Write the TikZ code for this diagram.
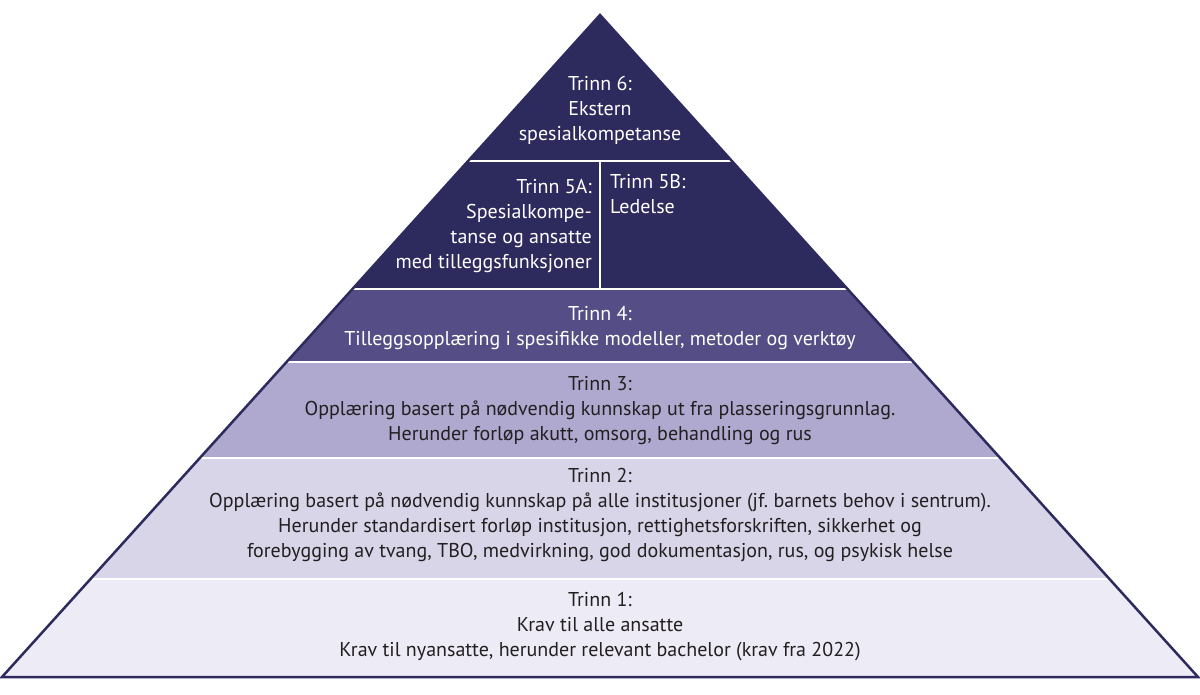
\documentclass[tikz,border=0pt]{standalone}
\usepackage{fontspec}
\setmainfont{PT Sans}
\definecolor{navy}{HTML}{2D2A5E}
\definecolor{bandfour}{HTML}{554E86}
\definecolor{bandthree}{HTML}{AFA9CF}
\definecolor{bandtwo}{HTML}{D8D5E9}
\definecolor{bandone}{HTML}{EDEBF6}
\definecolor{ink}{HTML}{231F20}
\begin{document}
\frenchspacing
\begin{tikzpicture}[x=1pt,y=-1pt,
  sep/.style={white,line width=2.5pt},
  lbl/.style={font=\fontsize{20}{25}\selectfont,align=center,inner sep=0pt},
  lightlbl/.style={lbl,text=white},
  darklbl/.style={lbl,text=ink}]
\useasboundingbox (0,0) rectangle (1200,695);
\coordinate (apex) at (600,15);
\coordinate (bl) at (2,677);
\coordinate (br) at (1198,677);
\begin{scope}
  \clip (apex) -- (br) -- (bl) -- cycle;
  \fill[navy] (0,0) rectangle (1200,290);
  \fill[bandfour] (0,290) rectangle (1200,362);
  \fill[bandthree] (0,362) rectangle (1200,458);
  \fill[bandtwo] (0,458) rectangle (1200,579);
  \fill[bandone] (0,579) rectangle (1200,680);
  \draw[sep] (0,161) -- (1200,161);
  \draw[sep] (0,289) -- (1200,289);
  \draw[sep] (0,362) -- (1200,362);
  \draw[sep] (0,458) -- (1200,458);
  \draw[sep] (0,579) -- (1200,579);
  \draw[sep] (600,161) -- (600,289);
\end{scope}
\draw[navy,line width=2.5pt,line join=miter] (apex) -- (br) -- (bl) -- cycle;
\node[lightlbl] (t6) at (600,110) {Trinn 6:\\Ekstern\\spesialkompetanse};
\node[lightlbl,align=right,anchor=east] (t5a) at (592,226) {Trinn 5A:\\Spesialkompe-\\tanse og ansatte\\med tilleggsfunksjoner};
\node[lightlbl,align=left,anchor=north west] (t5b) at (610,174) {Trinn 5B:\\Ledelse};
\node[lightlbl] (t4) at (600,328) {Trinn 4:\\Tilleggsopplæring i spesifikke modeller, metoder og verktøy};
\node[darklbl] (t3) at (600,411) {Trinn 3:\\Opplæring basert på nødvendig kunnskap ut fra plasseringsgrunnlag.\\Herunder forløp akutt, omsorg, behandling og rus};
\node[darklbl] (t2) at (600,515) {Trinn 2:\\Opplæring basert på nødvendig kunnskap på alle institusjoner (jf. barnets behov i sentrum).\\Herunder standardisert forløp institusjon, rettighetsforskriften, sikkerhet og\\forebygging av tvang, TBO, medvirkning, god dokumentasjon, rus, og psykisk helse};
\node[darklbl] (t1) at (600,627) {Trinn 1:\\Krav til alle ansatte\\Krav til nyansatte, herunder relevant bachelor (krav fra 2022)};
\end{tikzpicture}
\end{document}
